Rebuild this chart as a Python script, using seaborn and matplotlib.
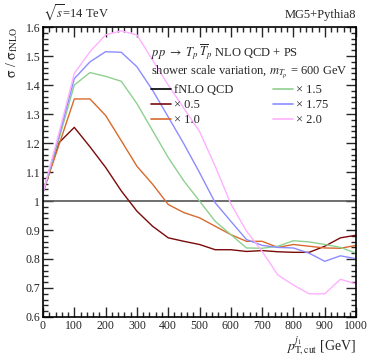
import numpy as np
import pandas as pd
import matplotlib
matplotlib.use("Agg")
import matplotlib.pyplot as plt
from matplotlib.lines import Line2D
from matplotlib.ticker import MultipleLocator
import seaborn as sns

# data
ptcut = [0, 50, 100, 150, 200, 250, 300, 350, 400, 450, 500,
         550, 600, 650, 700, 750, 800, 850, 900, 950, 1000]
scale_05 = [1.03, 1.20, 1.254, 1.187, 1.116, 1.035, 0.965, 0.913, 0.873, 0.861, 0.850,
            0.832, 0.832, 0.826, 0.829, 0.825, 0.823, 0.823, 0.844, 0.873, 0.882]
scale_10 = [1.03, 1.19, 1.352, 1.352, 1.295, 1.208, 1.120, 1.058, 0.988, 0.960, 0.942,
            0.913, 0.884, 0.861, 0.861, 0.840, 0.850, 0.844, 0.838, 0.837, 0.847]
scale_15 = [1.03, 1.21, 1.400, 1.443, 1.430, 1.413, 1.336, 1.243, 1.150, 1.069, 1.000,
            0.930, 0.884, 0.838, 0.837, 0.844, 0.863, 0.859, 0.850, 0.840, 0.820]
scale_175 = [1.03, 1.22, 1.422, 1.480, 1.515, 1.513, 1.463, 1.382, 1.290, 1.197, 1.098,
             0.994, 0.930, 0.867, 0.847, 0.840, 0.838, 0.820, 0.792, 0.811, 0.801]
scale_20 = [1.03, 1.23, 1.440, 1.515, 1.573, 1.587, 1.573, 1.486, 1.400, 1.320, 1.240,
            1.120, 0.990, 0.896, 0.826, 0.745, 0.710, 0.680, 0.680, 0.730, 0.714]

labels = ["× 0.5", "× 1.0", "× 1.5", "× 1.75", "× 2.0"]
colors = ["#7a0a0a", "#d86a2e", "#8fd08f", "#8c8cff", "#ffb0ff"]

series = [scale_05, scale_10, scale_15, scale_175, scale_20]
df = pd.concat([pd.DataFrame({"pt": ptcut, "ratio": s, "scale": lab})
                for s, lab in zip(series, labels)])

sns.set_style("ticks")
plt.rcParams["font.family"] = ["Liberation Serif", "DejaVu Serif"]
plt.rcParams["mathtext.fontset"] = "stix"

fig = plt.figure(figsize=(3.69, 3.56), dpi=100)
ax = fig.add_axes([0.1165, 0.1096, 0.8485, 0.8144])

ax.axhline(1.0, color="#555555", lw=1.2, zorder=1)
sns.lineplot(data=df, x="pt", y="ratio", hue="scale", hue_order=labels,
             palette=dict(zip(labels, colors)), lw=1.0, legend=False, ax=ax)

ax.set_xlim(0, 1000)
ax.set_ylim(0.6, 1.6)
ax.xaxis.set_major_locator(MultipleLocator(100))
ax.xaxis.set_minor_locator(MultipleLocator(20))
ax.yaxis.set_minor_locator(MultipleLocator(0.02))
ax.set_yticks(np.arange(0.6, 1.61, 0.1))
ax.set_yticklabels(["0.6", "0.7", "0.8", "0.9", "1", "1.1", "1.2", "1.3", "1.4", "1.5", "1.6"])
ax.tick_params(which="both", direction="in", top=True, right=True, labelsize=8.5, pad=2)
ax.tick_params(which="major", length=7, width=1)
ax.tick_params(which="minor", length=3.5, width=1)
for s in ax.spines.values():
    s.set_linewidth(1.2)
    s.set_color("black")

ax.set_xlabel(r"$p_{\mathrm{T,cut}}^{j_1}$ [GeV]", loc="right", fontsize=10, labelpad=2)
ax.set_ylabel(r"$\mathrm{\sigma}$ / $\mathrm{\sigma}_{\mathrm{fNLO}}$", loc="top", fontsize=10, labelpad=4)

fig.text(0.1165, 0.95, r"$\sqrt{s}$=14 TeV", fontsize=9, ha="left", va="baseline")
fig.text(0.965, 0.95, "MG5+Pythia8", fontsize=9, ha="right", va="baseline")

ax.text(0.345, 0.915, r"$pp\ \rightarrow\ T_p\,\overline{T}_p$ NLO QCD + PS",
        transform=ax.transAxes, fontsize=9, va="center")
ax.text(0.345, 0.845, r"shower scale variation, $m_{T_p}$ = 600 GeV",
        transform=ax.transAxes, fontsize=9, va="center")

handles = [Line2D([], [], color="black", lw=1.2)] + \
          [Line2D([], [], color=c, lw=1.2) for c in colors]
names = ["fNLO QCD"] + labels
ax.legend(handles, names, ncol=2, frameon=False, fontsize=9,
          loc="upper left", bbox_to_anchor=(0.33, 0.82),
          handlelength=1.6, handletextpad=0.2, columnspacing=3.2,
          labelspacing=0.25, borderaxespad=0)

fig.savefig("out.png", dpi=100)
